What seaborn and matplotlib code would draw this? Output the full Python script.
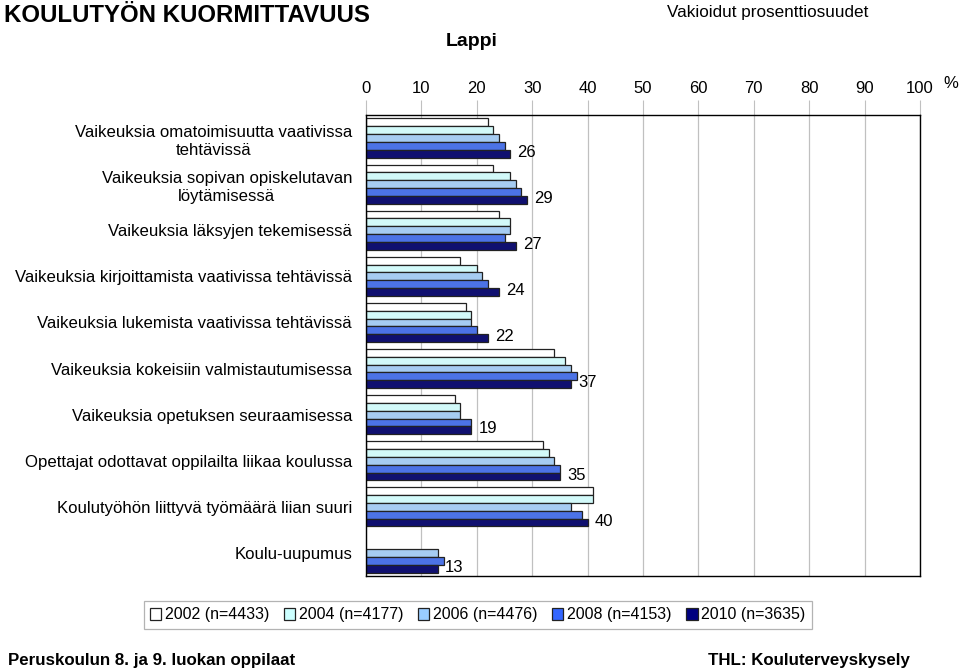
import numpy as np
import pandas as pd
import matplotlib
matplotlib.use("Agg")
import matplotlib.pyplot as plt
import seaborn as sns
from matplotlib.patches import Patch

# Data (percent)
categories = [
    "Vaikeuksia omatoimisuutta vaativissa\ntehtävissä",
    "Vaikeuksia sopivan opiskelutavan\nlöytämisessä",
    "Vaikeuksia läksyjen tekemisessä",
    "Vaikeuksia kirjoittamista vaativissa tehtävissä",
    "Vaikeuksia lukemista vaativissa tehtävissä",
    "Vaikeuksia kokeisiin valmistautumisessa",
    "Vaikeuksia opetuksen seuraamisessa",
    "Opettajat odottavat oppilailta liikaa koulussa",
    "Koulutyöhön liittyvä työmäärä liian suuri",
    "Koulu-uupumus",
]
years = ["2002 (n=4433)", "2004 (n=4177)", "2006 (n=4476)", "2008 (n=4153)", "2010 (n=3635)"]
v2002 = [22, 23, 24, 17, 18, 34, 16, 32, 41, np.nan]
v2004 = [23, 26, 26, 20, 19, 36, 17, 33, 41, np.nan]
v2006 = [24, 27, 26, 21, 19, 37, 17, 34, 37, 13]
v2008 = [25, 28, 25, 22, 20, 38, 19, 35, 39, 14]
v2010 = [26, 29, 27, 24, 22, 37, 19, 35, 40, 13]
colors = ["#FFFFFF", "#CCFFFF", "#99CCFF", "#3366FF", "#000080"]

rows = []
for yr, vals in zip(years, [v2002, v2004, v2006, v2008, v2010]):
    for cat, v in zip(categories, vals):
        rows.append({"category": cat, "year": yr, "value": v})
df = pd.DataFrame(rows)

sns.set_style("white")
plt.rcParams["font.family"] = ["Liberation Sans", "DejaVu Sans"]
plt.rcParams["text.color"] = "black"
plt.rcParams["xtick.labelcolor"] = "black"
plt.rcParams["ytick.labelcolor"] = "black"

fig = plt.figure(figsize=(9.59, 6.72), dpi=100)
ax = fig.add_axes([366 / 959, 1 - 576 / 672, (920 - 366) / 959, (576 - 115) / 672])

sns.barplot(data=df, x="value", y="category", hue="year", order=categories,
            hue_order=years, palette=colors, orient="h", width=0.85,
            errorbar=None, edgecolor="#222222", linewidth=0.9, ax=ax, legend=False)

ax.set_xlim(0, 100)
ax.set_ylim(9.5, -0.5)
ax.set_xticks(range(0, 101, 10))
ax.xaxis.tick_top()
ax.grid(axis="x", color="#C0C0C0", linewidth=0.9)
ax.set_axisbelow(True)
ax.tick_params(axis="x", which="both", top=True, length=11, color="#C0C0C0",
               labelsize=12, pad=3, labelcolor="black")
ax.set_yticks(range(len(categories)))
ax.set_yticklabels(categories, multialignment="center", linespacing=1.3,
                   fontsize=12.1)
ax.tick_params(axis="y", length=0, pad=10, labelcolor="black")
ax.set_xlabel("")
ax.set_ylabel("")
for sp in ax.spines.values():
    sp.set_visible(True)
    sp.set_color("black")
    sp.set_linewidth(1.0)

# value labels for 2010
for i, v in enumerate(v2010):
    ax.text(v + 1.3, i + 0.31, f"{v:.0f}", fontsize=12, va="center", ha="left")

# titles and notes
fig.text(4 / 959, 1 - 15 / 672, "KOULUTYÖN KUORMITTAVUUS", fontsize=17.3,
         fontweight="bold", va="center", ha="left")
fig.text(472 / 959, 1 - 42 / 672, "Lappi", fontsize=14, fontweight="bold",
         va="center", ha="center")
fig.text(768 / 959, 1 - 12 / 672, "Vakioidut prosenttiosuudet", fontsize=12.3,
         va="center", ha="center")
fig.text(951 / 959, 1 - 84 / 672, "%", fontsize=12, va="center", ha="center")
fig.text(8 / 959, 1 - 661 / 672, "Peruskoulun 8. ja 9. luokan oppilaat",
         fontsize=12.2, fontweight="bold", va="center", ha="left")
fig.text(910 / 959, 1 - 661 / 672, "THL: Kouluterveyskysely",
         fontsize=12.2, fontweight="bold", va="center", ha="right")

handles = [Patch(facecolor=c, edgecolor="#222222", linewidth=0.9) for c in colors]
leg = fig.legend(handles, years, loc="center", ncol=5,
                 bbox_to_anchor=(478 / 959, 1 - 615 / 672), fontsize=11.5,
                 frameon=True, fancybox=False, handlelength=0.7, handleheight=0.7,
                 handletextpad=0.25, columnspacing=0.9, borderpad=0.4)
leg.get_frame().set_edgecolor("#A0A0A0")
leg.get_frame().set_linewidth(0.9)

fig.savefig("out.png", dpi=100)
